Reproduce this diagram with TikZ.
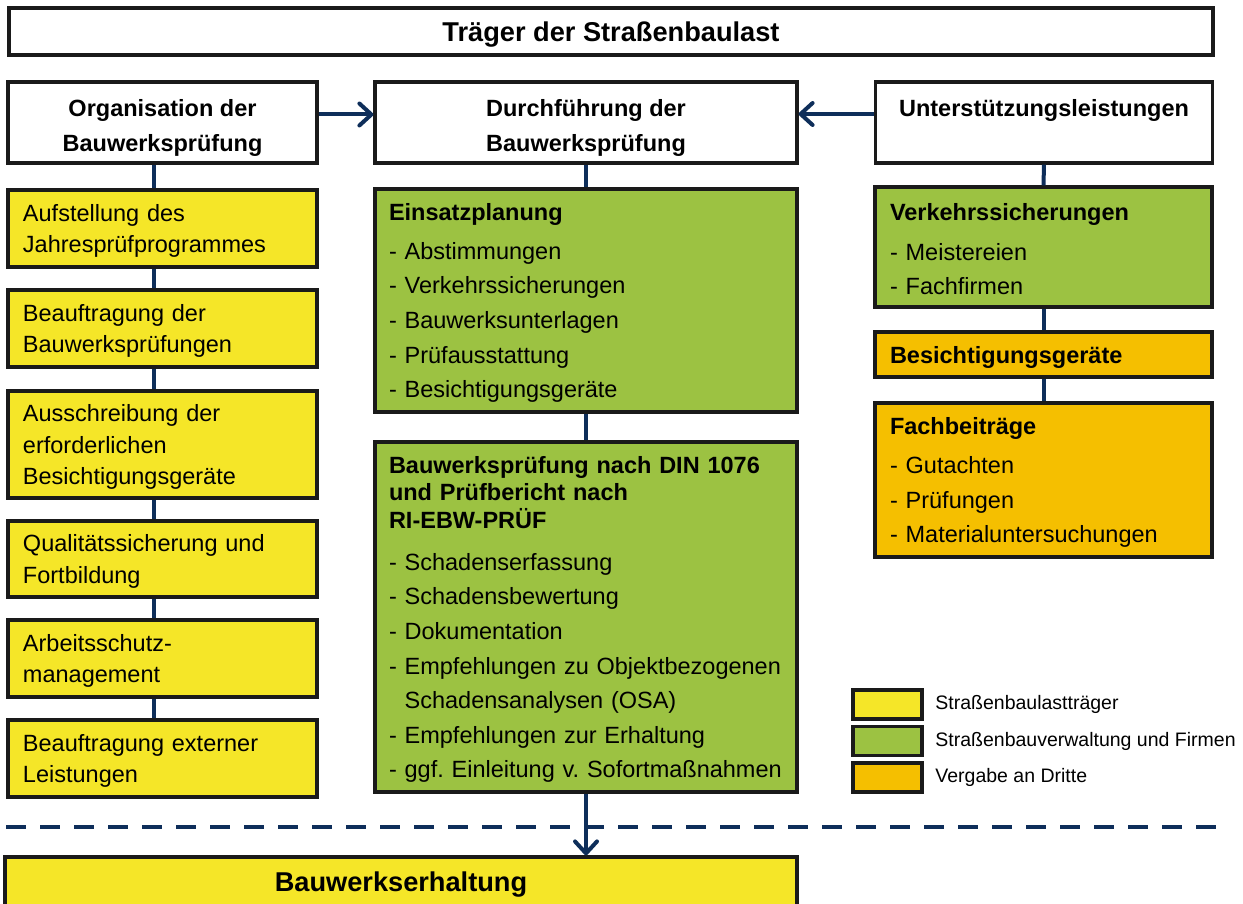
\documentclass[tikz,border=0pt]{standalone}
\usepackage{fontspec}
\setmainfont{Liberation Sans}
\usepackage{tikz}
\usetikzlibrary{arrows.meta,positioning}
\definecolor{BWYellow}{RGB}{245, 230, 40}
\definecolor{BWGreen}{RGB}{156, 194, 66}
\definecolor{BWOrange}{RGB}{245, 191, 0}
\definecolor{BWNavy}{RGB}{14, 46, 90}
\definecolor{BWFrame}{RGB}{26, 26, 26}

\begin{document}
\begin{tikzpicture}[x=0.5pt, y=-0.5pt]
  \tikzstyle{box} = [rectangle, draw=BWFrame, line width=1.6pt, inner xsep=7.5pt, inner ysep=0pt, align=left, font=\fontsize{11.75}{15.75}\selectfont\frenchspacing]
  \tikzstyle{banner} = [box, fill=white, align=center, text height=12.5pt, font=\fontsize{13.6}{16}\selectfont\bfseries]
  \tikzstyle{head} = [box, fill=white, align=center, minimum height=40.5pt, font=\fontsize{11.75}{17.5}\selectfont\bfseries]
  \tikzstyle{orgcol} = [box, fill=BWYellow, minimum width=154.5pt, text width=139.5pt, text height=11pt]
  \tikzstyle{midcol} = [box, fill=BWGreen, minimum width=211pt, text width=197pt, inner xsep=7pt, text height=11pt, font=\fontsize{11.75}{17.3}\selectfont\frenchspacing]
  \tikzstyle{sidecol} = [box, minimum width=168.5pt, text width=153.5pt, text height=11pt, font=\fontsize{11.75}{17.3}\selectfont]
  \tikzstyle{link} = [draw=BWNavy, line width=2pt]
  \tikzstyle{flow} = [link, -{Straight Barb[round, length=6pt, width=11pt]}]
  \tikzstyle{key} = [rectangle, draw=BWFrame, line width=1.6pt, minimum width=34.5pt, minimum height=14.5pt]
  \tikzstyle{keytext} = [anchor=west, inner sep=0pt, font=\fontsize{9.75}{12}\selectfont]

  \clip (0,0) rectangle (1243,904);

  \node [banner, minimum width=602pt, minimum height=23.5pt] (traeger) at (611,31.5) {Träger der Straßenbaulast};

  \node [head, minimum width=154.5pt] (orga) at (162.5,122.5) {\rule{0pt}{14pt}Organisation der\\Bauwerksprüfung};
  \node [head, minimum width=211pt] (durch) at (586,122.5) {\rule{0pt}{14pt}Durchführung der\\Bauwerksprüfung};
  \node [head, minimum width=168.5pt] (unter) at (1044,122.5) {\rule{0pt}{12pt}Unterstützungsleistungen\\\mbox{}};

  \node [orgcol, minimum height=38.5pt] (jahr) at (162.5,228.5) {Aufstellung des\\Jahresprüfprogrammes};
  \node [orgcol, minimum height=38.5pt] (auftrag) at (162.5,328.5) {Beauftragung der\\Bauwerksprüfungen};
  \node [orgcol, minimum height=53.5pt] (ausschr) at (162.5,444.5) {Ausschreibung der\\erforderlichen\\Besichtigungsgeräte};
  \node [orgcol, minimum height=38pt] (quali) at (162.5,559) {Qualitätssicherung und\\Fortbildung};
  \node [orgcol, minimum height=38.5pt] (arbeit) at (162.5,658.5) {Arbeitsschutz-\\management};
  \node [orgcol, minimum height=38.5pt] (extern) at (162.5,758.5) {Beauftragung externer\\Leistungen};

  \node [midcol, minimum height=111.5pt] (einsatz) at (586,300.5) {\textbf{Einsatzplanung}\\[2.2pt]
    - Abstimmungen\\- Verkehrssicherungen\\- Bauwerksunterlagen\\- Prüfausstattung\\- Besichtigungsgeräte};
  \node [midcol, minimum height=175pt] (pruef) at (586,617) {\textbf{Bauwerksprüfung nach DIN 1076}\\[-3.5pt]
    \textbf{und Prüfbericht nach}\\[-3.5pt]\textbf{RI-EBW-PRÜF}\\[3.7pt]
    - Schadenserfassung\\- Schadensbewertung\\- Dokumentation\\\mbox{- Empfehlungen zu Objektbezogenen}\\
    \hphantom{- }Schadensanalysen (OSA)\\- Empfehlungen zur Erhaltung\\\mbox{- ggf. Einleitung v. Sofortmaßnahmen}};

  \node [sidecol, fill=BWGreen, minimum height=60pt] (verkehr) at (1043.5,247) {\textbf{Verkehrssicherungen}\\[2.5pt]
    - Meistereien\\- Fachfirmen};
  \node [sidecol, fill=BWOrange, minimum height=22.5pt] (geraete) at (1043.5,354.5) {\textbf{Besichtigungsgeräte}};
  \node [sidecol, fill=BWOrange, minimum height=77pt] (fach) at (1043.5,480) {\textbf{Fachbeiträge}\\[2.2pt]
    - Gutachten\\- Prüfungen\\- Materialuntersuchungen};

  \node [banner, fill=BWYellow, minimum width=396pt, minimum height=25pt] (erhalt) at (401,882) {Bauwerkserhaltung};

  \node [key, fill=BWYellow] (keyA) at (887.5,704.5) {};
  \node [key, fill=BWGreen] (keyB) at (887.5,741) {};
  \node [key, fill=BWOrange] (keyC) at (887.5,777.5) {};
  \node [keytext] (keyAtext) at (935,704.5) {Straßenbaulastträger};
  \node [keytext] (keyBtext) at (935,741) {Straßenbauverwaltung und Firmen};
  \node [keytext] (keyCtext) at (935,777.5) {Vergabe an Dritte};

  \path [link] ([xshift=-4.25pt]orga.south) -- ([xshift=-4.25pt]jahr.north);
  \path [link] ([xshift=-4.25pt]jahr.south) -- ([xshift=-4.25pt]auftrag.north);
  \path [link] ([xshift=-4.25pt]auftrag.south) -- ([xshift=-4.25pt]ausschr.north);
  \path [link] ([xshift=-4.25pt]ausschr.south) -- ([xshift=-4.25pt]quali.north);
  \path [link] ([xshift=-4.25pt]quali.south) -- ([xshift=-4.25pt]arbeit.north);
  \path [link] ([xshift=-4.25pt]arbeit.south) -- ([xshift=-4.25pt]extern.north);

  \path [link] (durch.south) -- (einsatz.north);
  \path [link] (einsatz.south) -- (pruef.north);

  \path [link] (unter.south) -- (verkehr.north);
  \path [link] (verkehr.south) -- (geraete.north);
  \path [link] (geraete.south) -- (fach.north);

  \path [flow] ([yshift=4pt]orga.east) -- ([yshift=4pt]durch.west);
  \path [flow] ([yshift=4.25pt]unter.west) -- ([yshift=4.25pt]durch.east);
  \path [flow] (pruef.south) -- (pruef.south |- erhalt.north);

  \coordinate (sepL) at (6,827);
  \coordinate (sepR) at (1222,827);
  \path [link, line width=2.2pt, dash pattern=on 10pt off 7pt] (sepL) -- (sepR);
\end{tikzpicture}
\end{document}
